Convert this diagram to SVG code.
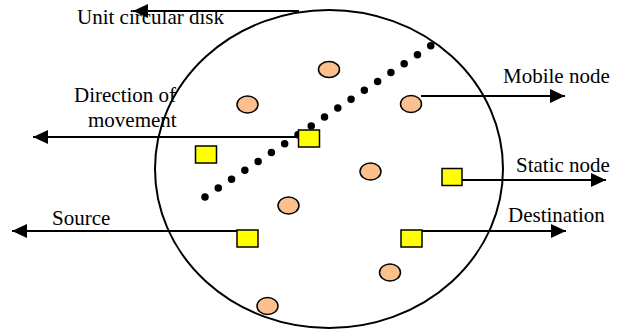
<svg xmlns="http://www.w3.org/2000/svg" width="624" height="331" viewBox="0 0 624 331">
<style>
.mob{fill:#FBC08E;stroke:#000;stroke-width:1.5}
.sta{fill:#FFFF00;stroke:#000;stroke-width:1.5}
.con{stroke:#000;stroke-width:2;fill:none}
</style>
<defs>
<marker id="ah" viewBox="0 0 15 14" refX="15" refY="7" markerWidth="15" markerHeight="14" markerUnits="userSpaceOnUse" orient="auto">
<path d="M0,0 L15,7 L0,14 z" fill="#000"/>
</marker>
</defs>
<rect width="624" height="331" fill="#fff"/>
<g id="disk">
<ellipse cx="329" cy="169" rx="174" ry="159" fill="none" stroke="#000" stroke-width="2"/>
</g>
<g id="path-dots">
<line x1="205" y1="197" x2="444" y2="37" stroke="#000" stroke-width="7.5" stroke-linecap="round" stroke-dasharray="0 15.98"/>
</g>
<g id="mobile-nodes">
<ellipse id="m1" class="mob" cx="247.5" cy="104.5" rx="10.5" ry="8.5"/>
<ellipse id="m2" class="mob" cx="329" cy="69.5" rx="10.5" ry="8"/>
<ellipse id="m3" class="mob" cx="411" cy="104" rx="10.5" ry="8.5"/>
<ellipse id="m4" class="mob" cx="370.5" cy="171.5" rx="10.5" ry="8.5"/>
<ellipse id="m5" class="mob" cx="288.5" cy="205.5" rx="10.5" ry="8.5"/>
<ellipse id="m6" class="mob" cx="390" cy="272.5" rx="10.5" ry="8.5"/>
<ellipse id="m7" class="mob" cx="267.5" cy="306" rx="10.5" ry="8.5"/>
</g>
<g id="static-nodes">
<rect id="s-dir" class="sta" x="298.5" y="130" width="21" height="17"/>
<rect id="s-left" class="sta" x="195.5" y="146" width="21" height="17"/>
<rect id="s-static" class="sta" x="442" y="168.5" width="20" height="17"/>
<rect id="s-dest" class="sta" x="401" y="230" width="21" height="17"/>
<rect id="s-src" class="sta" x="237" y="230" width="21" height="17"/>
</g>
<g id="connectors">
<line class="con" x1="299" y1="11" x2="133" y2="11" marker-end="url(#ah)"/>
<line class="con" x1="298" y1="137" x2="33" y2="137" marker-end="url(#ah)"/>
<line class="con" x1="421" y1="96" x2="565" y2="96" marker-end="url(#ah)"/>
<line class="con" x1="462" y1="180" x2="606" y2="180" marker-end="url(#ah)"/>
<line class="con" x1="422" y1="231" x2="566" y2="231" marker-end="url(#ah)"/>
<line class="con" x1="237" y1="231" x2="12" y2="231" marker-end="url(#ah)"/>
</g>
<g id="labels">
<text x="77" y="24" font-family="'Liberation Serif', serif" font-size="21">Unit circular disk</text>
<text x="74" y="102" font-family="'Liberation Serif', serif" font-size="21">Direction of</text>
<text x="88" y="127" font-family="'Liberation Serif', serif" font-size="21">movement</text>
<text x="503" y="83" font-family="'Liberation Serif', serif" font-size="21">Mobile node</text>
<text x="516" y="172" font-family="'Liberation Serif', serif" font-size="21">Static node</text>
<text x="508" y="222" font-family="'Liberation Serif', serif" font-size="21">Destination</text>
<text x="52" y="225" font-family="'Liberation Serif', serif" font-size="21">Source</text>
</g>
</svg>
